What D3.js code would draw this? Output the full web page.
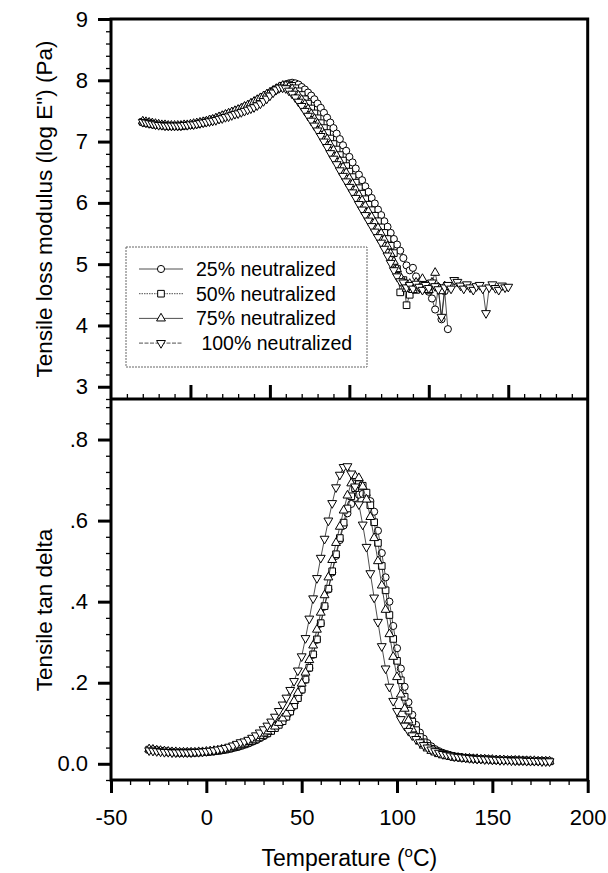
<!DOCTYPE html>
<html>
<head>
<meta charset="utf-8">
<script src="https://cdn.jsdelivr.net/npm/d3@7"></script>
<style>
  body { margin: 0; background: #fff; }
  svg { display: block; }
  text { font-family: "Liberation Sans", Arial, Helvetica, sans-serif; fill: #000; }
</style>
</head>
<body>
<svg id="chart" width="608" height="873"></svg>
<script>
// Degree of neutralization for each sample
const seriesNames = ["25% neutralized", "50% neutralized", "75% neutralized", " 100% neutralized"];

// Upper panel: tensile loss modulus, log E'' (Pa)
const tempsLoss = [-30,-28,-26,-24,-22,-20,-18,-16,-14,-12,-10,-8,-6,-4,-2,0,2,4,6,8,10,12,14,16,18,20,22,24,26,28,30,32,34,36,38,40,42,44,46,48,50,52,54,56,58,60,62,64,66,68,70,72,74,76,78,80,82,84,86,88,90,92,94,96,98,100,102,104,106,108,110,112,114,116,118,120,122,124,126,128,130,132,134,136,138,140,142,144,146,148,150,152,154,156,158,160,162,164,166,168,170,172,174,176,178,180,182,184,186,188,190,192,194,196,198,200];

const loss25 = [7.31,7.30,7.29,7.28,7.27,7.27,7.26,7.26,7.25,7.25,7.25,7.25,7.25,7.26,7.26,
  7.27,7.28,7.29,7.30,7.31,7.32,7.33,7.35,7.36,7.38,7.40,7.42,7.44,7.46,7.47,
  7.49,7.51,7.54,7.56,7.59,7.62,7.65,7.68,7.72,7.75,7.79,7.82,7.85,7.88,7.91,
  7.93,7.95,7.96,7.95,7.93,7.89,7.85,7.80,7.75,7.69,7.62,7.55,7.47,7.39,7.31,
  7.22,7.13,7.04,6.94,6.85,6.75,6.66,6.56,6.46,6.37,6.27,6.18,6.08,5.99,5.89,
  5.80,5.70,5.61,5.51,5.41,5.32,5.22,5.10,4.98,4.90,4.94,4.80,4.70,4.62,4.68,
  4.55,4.44,4.26,4.62,4.10,4.56,3.94];

const loss50 = [7.32,7.31,7.30,7.29,7.28,7.27,7.27,7.26,7.26,7.25,7.25,7.25,7.26,7.26,7.27,
  7.27,7.28,7.29,7.30,7.31,7.33,7.34,7.36,7.37,7.39,7.41,7.43,7.45,7.47,7.49,
  7.51,7.53,7.56,7.58,7.61,7.64,7.67,7.70,7.73,7.76,7.79,7.82,7.85,7.88,7.91,
  7.93,7.93,7.91,7.87,7.82,7.76,7.69,7.62,7.54,7.46,
  7.38,7.30,7.22,7.14,7.05,6.96,6.87,6.78,6.69,6.60,
  6.51,6.42,6.33,6.24,6.15,6.06,5.97,5.88,5.79,5.70,
  5.60,5.51,5.41,5.30,5.18,4.92,4.54,4.74,4.33,4.50,
  4.62,4.58,4.66,4.60,4.64,4.58];

const loss75 = [7.33,7.32,7.31,7.30,7.29,7.28,7.27,7.27,7.26,7.26,7.26,7.26,7.26,7.27,7.27,
  7.28,7.29,7.30,7.31,7.32,7.33,7.35,7.36,7.38,7.40,7.42,7.44,7.46,7.48,7.50,
  7.52,7.54,7.57,7.59,7.62,7.65,7.68,7.71,7.74,7.77,7.80,7.83,7.86,7.89,7.91,
  7.91,7.89,7.86,7.81,7.75,7.68,7.61,7.53,7.45,7.37,
  7.29,7.21,7.12,7.04,6.95,6.86,6.77,6.68,6.58,6.49,
  6.40,6.31,6.22,6.13,6.04,5.95,5.86,5.77,5.68,5.59,
  5.50,5.40,5.29,5.17,5.04,4.92,4.80,4.72,4.60,4.68,
  4.58,4.70,4.62,4.76,4.64,4.58,4.70,4.86,4.62,4.56,4.64];

const loss100 = [7.32,7.31,7.30,7.29,7.28,7.27,7.27,7.26,7.26,7.26,7.26,7.26,7.26,7.27,7.27,
  7.28,7.28,7.29,7.30,7.31,7.32,7.33,7.34,7.35,7.37,7.38,7.40,7.41,7.43,7.45,
  7.46,7.48,7.50,7.52,7.54,7.56,7.59,7.62,7.66,7.70,7.75,7.80,7.85,7.88,7.88,
  7.87,7.83,7.78,7.72,7.65,7.58,7.50,7.42,7.34,7.26,
  7.18,7.09,7.00,6.91,6.81,6.72,6.63,6.53,6.44,6.35,
  6.26,6.17,6.08,5.98,5.89,5.80,5.71,5.62,5.53,5.44,
  5.35,5.25,5.14,5.02,4.90,4.80,4.72,4.70,4.62,
  4.66,4.60,4.68,4.63,4.58,4.66,
  4.61,4.70,4.64,4.59,4.14,4.62,4.66,4.60,4.74,4.71,4.65,4.60,4.67,4.62,4.58,
  4.64,4.66,4.60,4.20,4.62,4.67,4.61,4.58,4.65,4.62,4.63];

// Lower panel: tensile tan delta
const tempsTan = [-30,-28,-26,-24,-22,-20,-18,-16,-14,-12,-10,-8,-6,-4,-2,0,2,4,6,8,10,12,14,16,18,20,22,24,26,28,30,32,34,36,38,40,42,44,46,48,50,52,54,56,58,60,62,64,66,68,70,72,74,76,78,80,82,84,86,88,90,92,94,96,98,100,102,104,106,108,110,112,114,116,118,120,122,124,126,128,130,132,134,136,138,140,142,144,146,148,150,152,154,156,158,160,162,164,166,168,170,172,174,176,178,180];

const tan25 = [.034,.033,.032,.031,.030,.029,.028,.028,.027,.027,.027,.027,.027,.028,.028,
  .029,.030,.031,.032,.033,.035,.037,.039,.041,.044,.047,.050,.054,.058,.063,
  .068,.074,.081,.088,.097,.106,.116,.128,.143,.161,.182,.207,.236,.269,.306,
  .346,.388,.430,.472,.513,.552,.588,.618,.641,.656,.664,.666,.662,.648,.622,
  .575,.520,.460,.400,.340,.285,.235,.190,.152,.121,.096,.077,.062,.051,.043,
  .036,.031,.027,.024,.021,.019,.017,.016,.015,.014,.013,.012,.012,.011,.011,
  .010,.010,.010,.009,.009,.009,.009,.008,.008,.008,.008,.007,.007,.007,.007,
  .006];

const tan50 = [.035,.034,.033,.032,.031,.030,.029,.028,.028,.028,.028,.028,.028,.028,.029,
  .029,.030,.031,.032,.034,.035,.037,.040,.042,.045,.048,.052,.056,.060,.065,
  .070,.075,.081,.088,.096,.105,.116,.129,.144,.162,.183,.208,.237,.270,.307,
  .347,.389,.432,.475,.517,.557,.595,.630,.660,.680,.690,.686,.669,.638,.596,
  .545,.488,.428,.367,.308,.254,.206,.165,.131,.104,.083,.066,.053,.044,.037,
  .031,.027,.024,.021,.019,.017,.016,.015,.014,.013,.013,.012,.012,.011,.011,
  .010,.010,.009,.009,.009,.009,.008,.008,.008,.008,.007,.007,.007,.007,.006,
  .006];

const tan75 = [.036,.035,.033,.032,.031,.030,.029,.029,.028,.028,.028,.028,.028,.029,.029,
  .030,.031,.032,.033,.035,.036,.038,.041,.043,.046,.050,.054,.058,.063,.069,
  .075,.080,.086,.092,.101,.112,.124,.138,.155,.175,.198,.225,.256,.292,.331,
  .373,.416,.460,.503,.545,.585,.625,.662,.692,.710,.705,.684,.652,.609,.557,
  .500,.440,.380,.320,.264,.214,.171,.136,.107,.085,.068,.055,.045,.038,.032,
  .028,.024,.021,.019,.018,.016,.015,.014,.013,.013,.012,.012,.011,.011,.010,
  .010,.009,.009,.009,.008,.008,.008,.008,.007,.007,.007,.007,.006,.006,.006,
  .006];

const tan100 = [.033,.032,.031,.030,.029,.029,.028,.028,.028,.028,.028,.028,.029,.029,.030,
  .031,.032,.033,.035,.037,.039,.042,.045,.049,.053,.055,.059,.064,.070,.077,
  .085,.094,.104,.116,.130,.146,.163,.182,.204,.230,.265,.310,.358,.408,.458,
  .508,.555,.600,.643,.682,.713,.732,.734,.716,.684,.640,.590,.535,.470,.410,
  .350,.290,.235,.190,.155,.130,.110,.094,.081,.070,.061,.053,.046,.040,.035,
  .031,.027,.024,.022,.020,.018,.017,.016,.015,.014,.013,.012,.012,.011,.011,
  .010,.010,.009,.009,.009,.008,.008,.008,.008,.007,.007,.007,.007,.006,.006,
  .006];

// Axis ticks and labels
const lossTicks = [3, 4, 5, 6, 7, 8, 9];
const tanTicks = [0, 0.2, 0.4, 0.6, 0.8];
const tanTickLabels = ["0.0", ".2", ".4", ".6", ".8"];
const tempTicks = [-50, 0, 50, 100, 150, 200];
const tempTickLabels = ["-50", "0", "50", "100", "150", "200"];
const lossTempTicks = [0, 50, 100, 150, 200];

// ---- layout ----
const L = 111, R = 587.7, TOP = 19, MID = 399, BOT = 780;
const svg = d3.select("#chart");

const xLoss = d3.scaleLinear().domain([-50, 250]).range([L, R]);
const yLoss = d3.scaleLinear().domain([2.8, 9]).range([MID, TOP]);
const xTan = d3.scaleLinear().domain([-50, 200]).range([L, R]);
const yTan = d3.scaleLinear().domain([-0.04, 0.9]).range([BOT, MID]);

const FS = 22;

function styleAxis(g, width) {
  g.select(".domain").remove();
  g.selectAll(".tick line").attr("stroke", "#000").attr("stroke-width", width);
  g.selectAll(".tick text").style("font-size", FS + "px").attr("fill", "#000");
}

// minor tick positions
const minorLoss = d3.range(28, 91, 2).map(d => d / 10).filter(d => !lossTicks.includes(d));
const minorTan = d3.range(-4, 89, 4).map(d => d / 100).filter(d => Math.abs(d * 5 - Math.round(d * 5)) > 1e-6);
const minorTemp = d3.range(-40, 200, 10).filter(d => d % 50 !== 0);
const minorLossTemp = d3.range(-40, 250, 10).filter(d => d % 50 !== 0);

// Upper panel y axis
svg.append("g").attr("transform", `translate(${L},0)`)
  .call(d3.axisLeft(yLoss).tickValues(minorLoss).tickSize(5).tickFormat(""))
  .call(g => styleAxis(g, 1.3));
svg.append("g").attr("transform", `translate(${L},0)`)
  .call(d3.axisLeft(yLoss).tickValues(lossTicks).tickSize(13).tickPadding(10).tickFormat(d3.format("d")))
  .call(g => styleAxis(g, 3));

// Lower panel y axis
svg.append("g").attr("transform", `translate(${L},0)`)
  .call(d3.axisLeft(yTan).tickValues(minorTan).tickSize(5).tickFormat(""))
  .call(g => styleAxis(g, 1.3));
svg.append("g").attr("transform", `translate(${L},0)`)
  .call(d3.axisLeft(yTan).tickValues(tanTicks).tickSize(13).tickPadding(10)
    .tickFormat((d, i) => tanTickLabels[i]))
  .call(g => styleAxis(g, 3));

// Upper panel temperature ticks, pointing inward
svg.append("g").attr("transform", `translate(0,${MID})`)
  .call(d3.axisTop(xLoss).tickValues(minorLossTemp).tickSize(5).tickFormat(""))
  .call(g => styleAxis(g, 1.3));
svg.append("g").attr("transform", `translate(0,${MID})`)
  .call(d3.axisTop(xLoss).tickValues(lossTempTicks).tickSize(14).tickFormat(""))
  .call(g => styleAxis(g, 3));

// Lower panel temperature axis
svg.append("g").attr("transform", `translate(0,${BOT})`)
  .call(d3.axisBottom(xTan).tickValues(minorTemp).tickSize(5).tickFormat(""))
  .call(g => styleAxis(g, 1.3));
svg.append("g").attr("transform", `translate(0,${BOT})`)
  .call(d3.axisBottom(xTan).tickValues(tempTicks).tickSize(13).tickPadding(16)
    .tickFormat((d, i) => tempTickLabels[i]))
  .call(g => styleAxis(g, 3));

// Frame of both panels
svg.append("rect").attr("x", L).attr("y", TOP).attr("width", R - L).attr("height", BOT - TOP)
  .attr("fill", "none").attr("stroke", "#000").attr("stroke-width", 3);
svg.append("line").attr("x1", L).attr("x2", R).attr("y1", MID).attr("y2", MID)
  .attr("stroke", "#000").attr("stroke-width", 3);

// Series symbols
const symbolDefs = [
  { type: d3.symbolCircle, size: 40, rot: 0 },
  { type: d3.symbolSquare, size: 44, rot: 0 },
  { type: d3.symbolTriangle, size: 34, rot: 0 },
  { type: d3.symbolTriangle, size: 34, rot: 180 }
];
const lineDash = [null, "1.5,1", null, "4,1.5"];

function drawSeries(temps, values, xs, ys, k) {
  const pts = values.map((v, i) => ({ t: temps[i], v }));
  const g = svg.append("g");
  g.append("path").datum(pts)
    .attr("d", d3.line().x(d => xs(d.t)).y(d => ys(d.v)))
    .attr("fill", "none").attr("stroke", "#222").attr("stroke-width", 0.8);
  const s = symbolDefs[k];
  g.selectAll("path.sym").data(pts).join("path").attr("class", "sym")
    .attr("d", d3.symbol().type(s.type).size(s.size))
    .attr("transform", d => `translate(${xs(d.t)},${ys(d.v)}) rotate(${s.rot})`)
    .attr("fill", "#fff").attr("stroke", "#000").attr("stroke-width", 1);
}

[loss25, loss50, loss75, loss100].forEach((vals, k) => drawSeries(tempsLoss, vals, xLoss, yLoss, k));
[tan25, tan50, tan75, tan100].forEach((vals, k) => drawSeries(tempsTan, vals, xTan, yTan, k));

// Legend
const lg = svg.append("g");
lg.append("rect").attr("x", 126).attr("y", 247).attr("width", 241).attr("height", 120)
  .attr("fill", "#fff").attr("stroke", "#666").attr("stroke-width", 1).attr("stroke-dasharray", "2,1");
seriesNames.forEach((name, k) => {
  const y = 269 + k * 24.7;
  lg.append("line").attr("x1", 139).attr("x2", 183).attr("y1", y).attr("y2", y)
    .attr("stroke", "#222").attr("stroke-width", 0.8).attr("stroke-dasharray", lineDash[k]);
  const s = symbolDefs[k];
  lg.append("path").attr("d", d3.symbol().type(s.type).size(s.size))
    .attr("transform", `translate(161,${y}) rotate(${s.rot})`)
    .attr("fill", "#fff").attr("stroke", "#000").attr("stroke-width", 1);
  lg.append("text").attr("x", 196).attr("y", y).attr("dy", "0.36em")
    .style("font-size", "19.5px").style("white-space", "pre").text(name);
});

// Axis titles
svg.append("text").attr("transform", `translate(52,${(TOP + MID) / 2}) rotate(-90)`)
  .attr("text-anchor", "middle").style("font-size", "22.5px")
  .text("Tensile loss modulus (log E\") (Pa)");
svg.append("text").attr("transform", `translate(52,610) rotate(-90)`)
  .attr("text-anchor", "middle").style("font-size", "22.5px")
  .text("Tensile tan delta");
const xt = svg.append("text").attr("x", (L + R) / 2).attr("y", 866)
  .attr("text-anchor", "middle").style("font-size", "23px");
xt.append("tspan").text("Temperature (");
xt.append("tspan").attr("dy", -9).style("font-size", "15px").text("o");
xt.append("tspan").attr("dy", 9).text("C)");
</script>
</body>
</html>
